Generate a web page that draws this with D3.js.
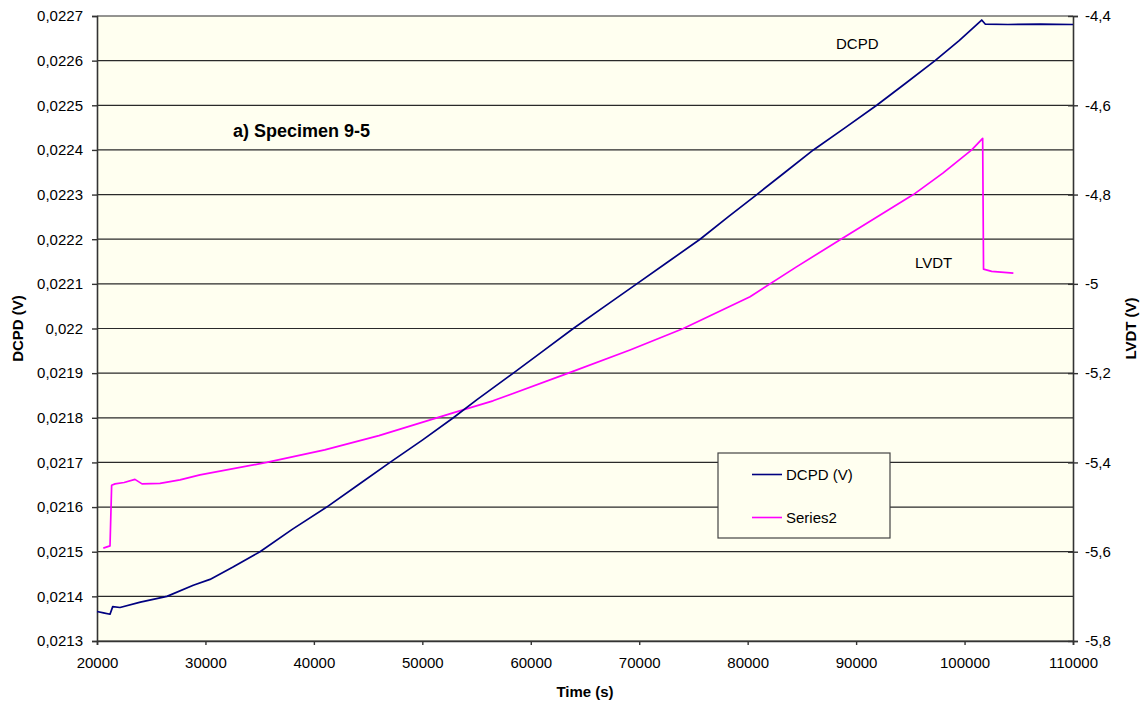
<!DOCTYPE html>
<html>
<head>
<meta charset="utf-8">
<script src="https://cdn.jsdelivr.net/npm/d3@7"></script>
<style>
  html, body { margin: 0; padding: 0; background: #ffffff; }
  svg { display: block; font-family: "Liberation Sans", Arial, sans-serif; }
</style>
</head>
<body>
<svg id="chart" width="1144" height="707"></svg>
<script>
// Time axis (s)
const timeTicks = [20000, 30000, 40000, 50000, 60000, 70000, 80000, 90000, 100000, 110000];
const timeTickLabels = ["20000", "30000", "40000", "50000", "60000", "70000", "80000", "90000", "100000", "110000"];

// Left axis: DCPD (V)
const dcpdTicks = [0.0213, 0.0214, 0.0215, 0.0216, 0.0217, 0.0218, 0.0219, 0.0220,
                   0.0221, 0.0222, 0.0223, 0.0224, 0.0225, 0.0226, 0.0227];
const dcpdTickLabels = ["0,0213", "0,0214", "0,0215", "0,0216", "0,0217", "0,0218", "0,0219", "0,022",
                        "0,0221", "0,0222", "0,0223", "0,0224", "0,0225", "0,0226", "0,0227"];

// Right axis: LVDT (V)
const lvdtTicks = [-4.4, -4.6, -4.8, -5.0, -5.2, -5.4, -5.6, -5.8];
const lvdtTickLabels = ["-4,4", "-4,6", "-4,8", "-5", "-5,2", "-5,4", "-5,6", "-5,8"];

// DCPD series: time (s) and potential drop (V)
const dcpdTime = [20000, 20600, 21200, 21450, 22120, 24000, 26450, 28880, 30420, 32500,
                  35030, 38000, 41180, 44100, 47020, 50000, 52860, 55010, 58390, 61150,
                  63920, 66850, 69770, 72700, 75610, 78200, 80840, 83450, 86060, 89000,
                  91900, 94600, 97280, 99500, 101580, 101900, 104000, 107000, 110000];
const dcpdValue = [0.021366, 0.021363, 0.021360, 0.021377, 0.021375, 0.021387, 0.021400, 0.021425, 0.021438, 0.021465,
                   0.021500, 0.021550, 0.021600, 0.021650, 0.021700, 0.021750, 0.021800, 0.021840, 0.021900, 0.021950,
                   0.022000, 0.022050, 0.022100, 0.022150, 0.022200, 0.022250, 0.022300, 0.022350, 0.022400, 0.022450,
                   0.022500, 0.022550, 0.022600, 0.022645, 0.022691, 0.022682, 0.022681, 0.022682, 0.022681];

// LVDT series (Series2): time (s) and displacement signal (V)
const lvdtTime = [20580, 21200, 21350, 21660, 22500, 23500, 24150, 25810, 27650, 29500,
                  35650, 41000, 46000, 52830, 56520, 63460, 69150, 74070, 80220, 84500,
                  88600, 95280, 98000, 100660, 101670, 101750, 102500, 104500];
const lvdtValue = [-5.592, -5.587, -5.451, -5.448, -5.445, -5.438, -5.448, -5.447, -5.439, -5.428,
                   -5.400, -5.372, -5.340, -5.289, -5.262, -5.200, -5.148, -5.100, -5.029, -4.962,
                   -4.900, -4.800, -4.752, -4.700, -4.674, -4.967, -4.972, -4.976];

const W = 1144, H = 707;
const margin = { left: 97, right: 71, top: 16, bottom: 66 };
const innerW = W - margin.left - margin.right;
const innerH = H - margin.top - margin.bottom;

const svg = d3.select("#chart");
const g = svg.append("g").attr("transform", `translate(${margin.left},${margin.top})`);

const x = d3.scaleLinear().domain([20000, 110000]).range([0, innerW]);
const yL = d3.scaleLinear().domain([0.0213, 0.0227]).range([innerH, 0]);
const yR = d3.scaleLinear().domain([-5.8, -4.4]).range([innerH, 0]);

// plot area
g.append("rect")
  .attr("x", 0).attr("y", 0).attr("width", innerW).attr("height", innerH)
  .attr("fill", "#fffff0");

// horizontal gridlines at every DCPD tick
g.append("g")
  .selectAll("line")
  .data(dcpdTicks)
  .join("line")
  .attr("x1", 0).attr("x2", innerW)
  .attr("y1", d => yL(d)).attr("y2", d => yL(d))
  .attr("stroke", "#2a2a2a")
  .attr("stroke-width", 1.2);

const fontSize = 15;

// left axis
const axL = g.append("g")
  .call(d3.axisLeft(yL).tickValues(dcpdTicks)
    .tickFormat((d, i) => dcpdTickLabels[i]).tickSize(5).tickPadding(9));
// right axis (ticks cross the axis line)
const axR = g.append("g").attr("transform", `translate(${innerW},0)`)
  .call(d3.axisRight(yR).tickValues(lvdtTicks)
    .tickFormat((d, i) => lvdtTickLabels[i]).tickSize(5).tickPadding(7));
axR.selectAll(".tick line").attr("x1", -5);
// bottom axis
const axB = g.append("g").attr("transform", `translate(0,${innerH})`)
  .call(d3.axisBottom(x).tickValues(timeTicks)
    .tickFormat((d, i) => timeTickLabels[i]).tickSize(4).tickPadding(12));

[axL, axR, axB].forEach(ax => {
  ax.select(".domain").attr("stroke", "#333").attr("stroke-width", 1.6);
  ax.selectAll(".tick line").attr("stroke", "#333").attr("stroke-width", 1.4);
  ax.selectAll(".tick text")
    .attr("fill", "#000")
    .style("font-family", '"Liberation Sans", Arial, sans-serif')
    .style("font-size", fontSize + "px");
});

// series lines
const dcpdLine = d3.line().x((d, i) => x(dcpdTime[i])).y(d => yL(d));
const lvdtLine = d3.line().x((d, i) => x(lvdtTime[i])).y(d => yR(d));

g.append("path")
  .datum(lvdtValue)
  .attr("d", lvdtLine)
  .attr("fill", "none")
  .attr("stroke", "#ff00ff")
  .attr("stroke-width", 1.7)
  .attr("stroke-linejoin", "round");

g.append("path")
  .datum(dcpdValue)
  .attr("d", dcpdLine)
  .attr("fill", "none")
  .attr("stroke", "#000080")
  .attr("stroke-width", 1.7)
  .attr("stroke-linejoin", "round");

// in-plot annotations
svg.append("text")
  .attr("x", 233).attr("y", 137)
  .style("font-size", "18px").style("font-weight", "bold")
  .text("a) Specimen 9-5");
svg.append("text")
  .attr("x", 836).attr("y", 49)
  .style("font-size", fontSize + "px")
  .text("DCPD");
svg.append("text")
  .attr("x", 915).attr("y", 268)
  .style("font-size", fontSize + "px")
  .text("LVDT");

// axis titles
svg.append("text")
  .attr("x", margin.left + innerW / 2).attr("y", 697)
  .attr("text-anchor", "middle")
  .style("font-size", "15px").style("font-weight", "bold")
  .text("Time (s)");
svg.append("text")
  .attr("transform", `translate(23,${margin.top + innerH / 2}) rotate(-90)`)
  .attr("text-anchor", "middle")
  .style("font-size", "15px").style("font-weight", "bold")
  .text("DCPD (V)");
svg.append("text")
  .attr("transform", `translate(1136,${margin.top + innerH / 2}) rotate(-90)`)
  .attr("text-anchor", "middle")
  .style("font-size", "15px").style("font-weight", "bold")
  .text("LVDT (V)");

// legend
const legend = svg.append("g").attr("transform", "translate(718,453)");
legend.append("rect")
  .attr("width", 172).attr("height", 85)
  .attr("fill", "#fffff0")
  .attr("stroke", "#444").attr("stroke-width", 1.2);
const legendItems = [
  { name: "DCPD (V)", color: "#000080", y: 21.5 },
  { name: "Series2", color: "#ff00ff", y: 64.5 }
];
legendItems.forEach(it => {
  legend.append("line")
    .attr("x1", 34).attr("x2", 64)
    .attr("y1", it.y).attr("y2", it.y)
    .attr("stroke", it.color).attr("stroke-width", 1.6);
  legend.append("text")
    .attr("x", 68).attr("y", it.y)
    .attr("dy", "0.35em")
    .style("font-size", fontSize + "px")
    .text(it.name);
});
</script>
</body>
</html>
